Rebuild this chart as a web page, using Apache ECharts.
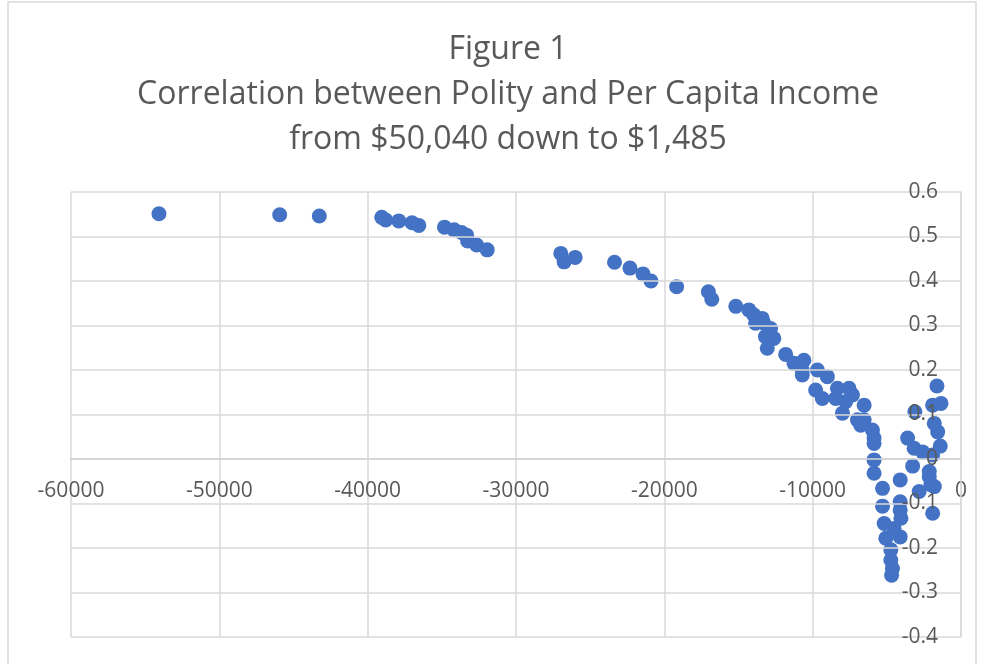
<!DOCTYPE html>
<html>
<head>
<meta charset="utf-8">
<title>Figure 1</title>
<script src="https://cdn.jsdelivr.net/npm/echarts@6/dist/echarts.min.js"></script>
<style>
  html, body { margin: 0; padding: 0; background: #fff; }
  #chart { width: 986px; height: 664px; }
</style>
</head>
<body>
<div id="chart"></div>
<script>
// income difference ($) and polity correlation
const incomeDiff = [
  -54070, -45930, -43260, -39050, -38780, -37900, -37010, -36550, -34820, -34170,
  -33670, -33330, -33260, -32650, -31940, -26980, -26760, -26010, -23360, -22320,
  -21440, -20900, -19170, -17030, -16800, -15180, -14300, -13970, -13400, -13850,
  -13290, -12840, -13180, -12620, -13060, -11820, -11260, -10590, -10700, -10700,
  -9680, -9010, -9800, -9350, -8330, -7550, -7320, -8450, -7770, -7990,
  -6530, -6980, -6760, -6530, -5970, -5860, -5860, -5860, -5860, -5290,
  -5290, -5180, -5070, -4510, -4730, -4730, -4620, -4680, -4100, -4100,
  -4100, -4050, -4100, -3600, -3110, -3160, -3260, -2590, -2820, -1910,
  -2140, -2140, -2030, -1800, -1910, -1620, -1910, -1350, -1800, -1570,
  -1400
]
const correlation = [
  0.551, 0.549, 0.546, 0.543, 0.537, 0.535, 0.531, 0.525, 0.521, 0.515,
  0.509, 0.503, 0.490, 0.481, 0.470, 0.462, 0.443, 0.453, 0.442, 0.429,
  0.416, 0.400, 0.387, 0.376, 0.359, 0.343, 0.335, 0.324, 0.316, 0.305,
  0.305, 0.293, 0.275, 0.271, 0.249, 0.235, 0.215, 0.222, 0.189, 0.200,
  0.200, 0.185, 0.155, 0.136, 0.159, 0.159, 0.144, 0.136, 0.129, 0.103,
  0.121, 0.088, 0.076, 0.088, 0.065, 0.047, 0.035, -0.002, -0.032, -0.066,
  -0.106, -0.145, -0.178, -0.156, -0.204, -0.227, -0.246, -0.261, -0.047, -0.096,
  -0.115, -0.133, -0.175, 0.047, 0.106, 0.024, -0.016, 0.016, -0.073, 0.009,
  -0.028, -0.040, -0.058, -0.062, -0.122, 0.164, 0.121, 0.125, 0.080, 0.061,
  0.029
]

const titleText = 'Figure 1\nCorrelation between Polity and Per Capita Income\nfrom $50,040 down to $1,485'

const textColor = '#595959'
const gridColor = '#d9d9d9'
const font = '"Open Sans", "Noto Sans", sans-serif'

let chart = echarts.init(document.getElementById('chart'), null, { renderer: 'canvas' })
chart.setOption({
  backgroundColor: '#fff',
  animation: false,
  title: {
    text: titleText,
    // centre of the title block
    left: 503,
    top: 22,
    textAlign: 'center',
    textStyle: {
      color: textColor,
      fontFamily: font,
      fontWeight: 'normal',
      fontSize: 32,
      lineHeight: 45,
      align: 'center'
    }
  },
  graphic: [{
    type: 'rect',
    shape: { x: 8, y: 2, width: 968, height: 720 },
    style: { fill: 'none', stroke: gridColor, lineWidth: 1.5 },
    silent: true
  }],
  grid: {
    left: 71,
    right: 25,
    top: 192,
    bottom: 27,
    outerBoundsMode: 'none'
  },
  xAxis: {
    type: 'value',
    position: 'bottom',
    // the horizontal axis crosses at y = 0 (178px above the plot bottom)
    offset: -178,
    min: -60000,
    max: 0,
    interval: 10000,
    axisLine: { onZero: false, lineStyle: { color: '#bfbfbf', width: 1.5 } },
    axisTick: { show: false },
    axisLabel: {
      color: textColor,
      fontFamily: font,
      fontSize: 21,
      margin: 22,
      formatter: function (v) {
        return String(v)
      }
    },
    splitLine: { lineStyle: { color: gridColor, width: 1.5 } }
  },
  yAxis: {
    type: 'value',
    position: 'right',
    min: -0.4,
    max: 0.6,
    interval: 0.1,
    z: 10,
    axisLine: { show: true, onZero: false, lineStyle: { color: gridColor, width: 1.5 } },
    axisTick: { show: false },
    axisLabel: {
      inside: true,
      margin: 23,
      color: textColor,
      fontFamily: font,
      fontSize: 21,
      formatter: function (v) {
        return String(Math.round(v * 10) / 10)
      }
    },
    splitLine: { lineStyle: { color: gridColor, width: 1.5 } }
  },
  series: [{
    type: 'scatter',
    symbolSize: 15,
    data: incomeDiff.map((x, i) => [x, correlation[i]]),
    itemStyle: { color: '#4472C4', opacity: 1 }
  }]
})
window.addEventListener('resize', () => chart.resize())
</script>
</body>
</html>
